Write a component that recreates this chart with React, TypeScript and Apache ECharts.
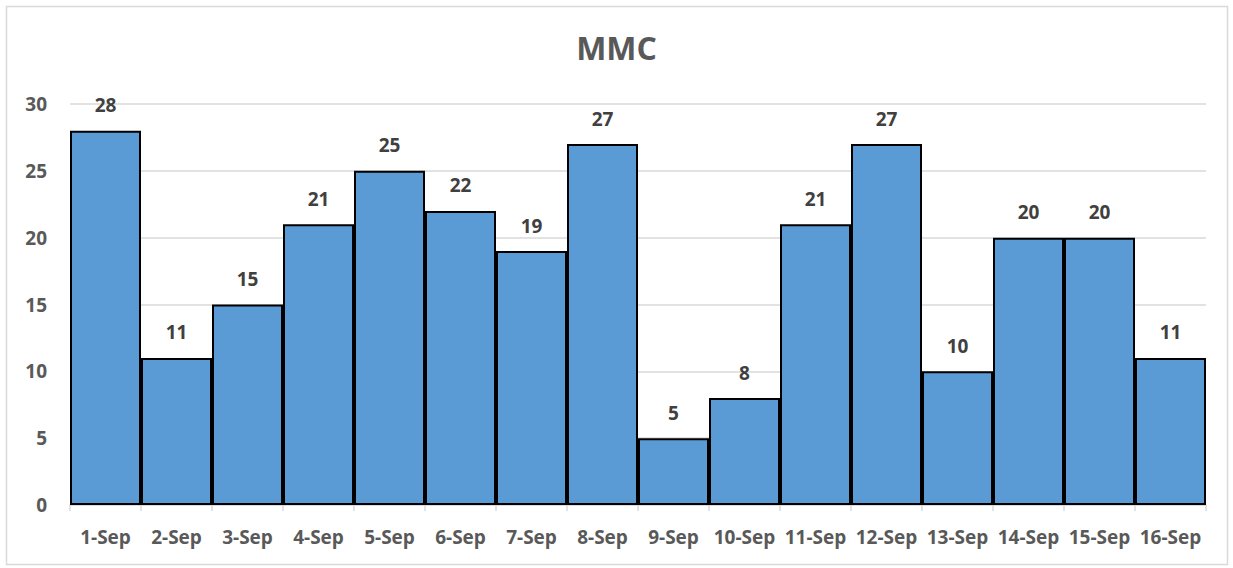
import React, { useEffect, useRef } from "react";
import * as echarts from "echarts";

const categories = ["1-Sep","2-Sep","3-Sep","4-Sep","5-Sep","6-Sep","7-Sep","8-Sep","9-Sep","10-Sep","11-Sep","12-Sep","13-Sep","14-Sep","15-Sep","16-Sep"];
const values = [28, 11, 15, 21, 25, 22, 19, 27, 5, 8, 21, 27, 10, 20, 20, 11];
const chartTitle = "MMC";

const FONT = "'Open Sans', 'Liberation Sans', sans-serif";

export default function App() {
  const ref = useRef<HTMLDivElement>(null);
  useEffect(() => {
    if (!ref.current) return;
    const chart = echarts.init(ref.current, null, { renderer: "svg" });
    chart.setOption({
      animation: false,
      backgroundColor: "#fff",
      title: {
        text: chartTitle,
        left: "center",
        top: 26,
        textStyle: { fontFamily: FONT, fontSize: 32, fontWeight: "bold", color: "#595959" },
      },
      graphic: [
        {
          type: "rect",
          shape: { x: 6.5, y: 6.5, width: 1221, height: 558 },
          style: { fill: "none", stroke: "#D9D9D9", lineWidth: 1.5 },
          silent: true,
          z: -1,
        },
      ],
      grid: { left: 70, right: 27, top: 104, bottom: 63 },
      xAxis: {
        type: "category",
        data: categories,
        axisLine: { lineStyle: { color: "#D9D9D9", width: 1.5 } },
        axisTick: { show: true, length: 6, lineStyle: { color: "#D9D9D9", width: 1.5 } },
        axisLabel: { fontFamily: FONT, fontSize: 19, fontWeight: "bold", color: "#595959", margin: 22, interval: 0 },
      },
      yAxis: {
        type: "value",
        min: 0,
        max: 30,
        interval: 5,
        axisLine: { show: false },
        axisTick: { show: false },
        splitLine: { lineStyle: { color: "#D9D9D9", width: 1.5 } },
        axisLabel: { fontFamily: FONT, fontSize: 19, fontWeight: "bold", color: "#595959", margin: 23 },
      },
      series: [
        {
          type: "bar",
          data: values,
          barCategoryGap: "0%",
          itemStyle: { color: "#5B9BD5", borderColor: "#000", borderWidth: 2 },
          label: {
            show: true,
            position: "top",
            distance: 16,
            fontFamily: FONT,
            fontSize: 19,
            fontWeight: "bold",
            color: "#404040",
          },
        },
      ],
    });
    return () => chart.dispose();
  }, []);
  return (
    <div
      ref={ref}
      style={{ position: "fixed", left: 0, top: 0, width: 1233, height: 568 }}
    />
  );
}
